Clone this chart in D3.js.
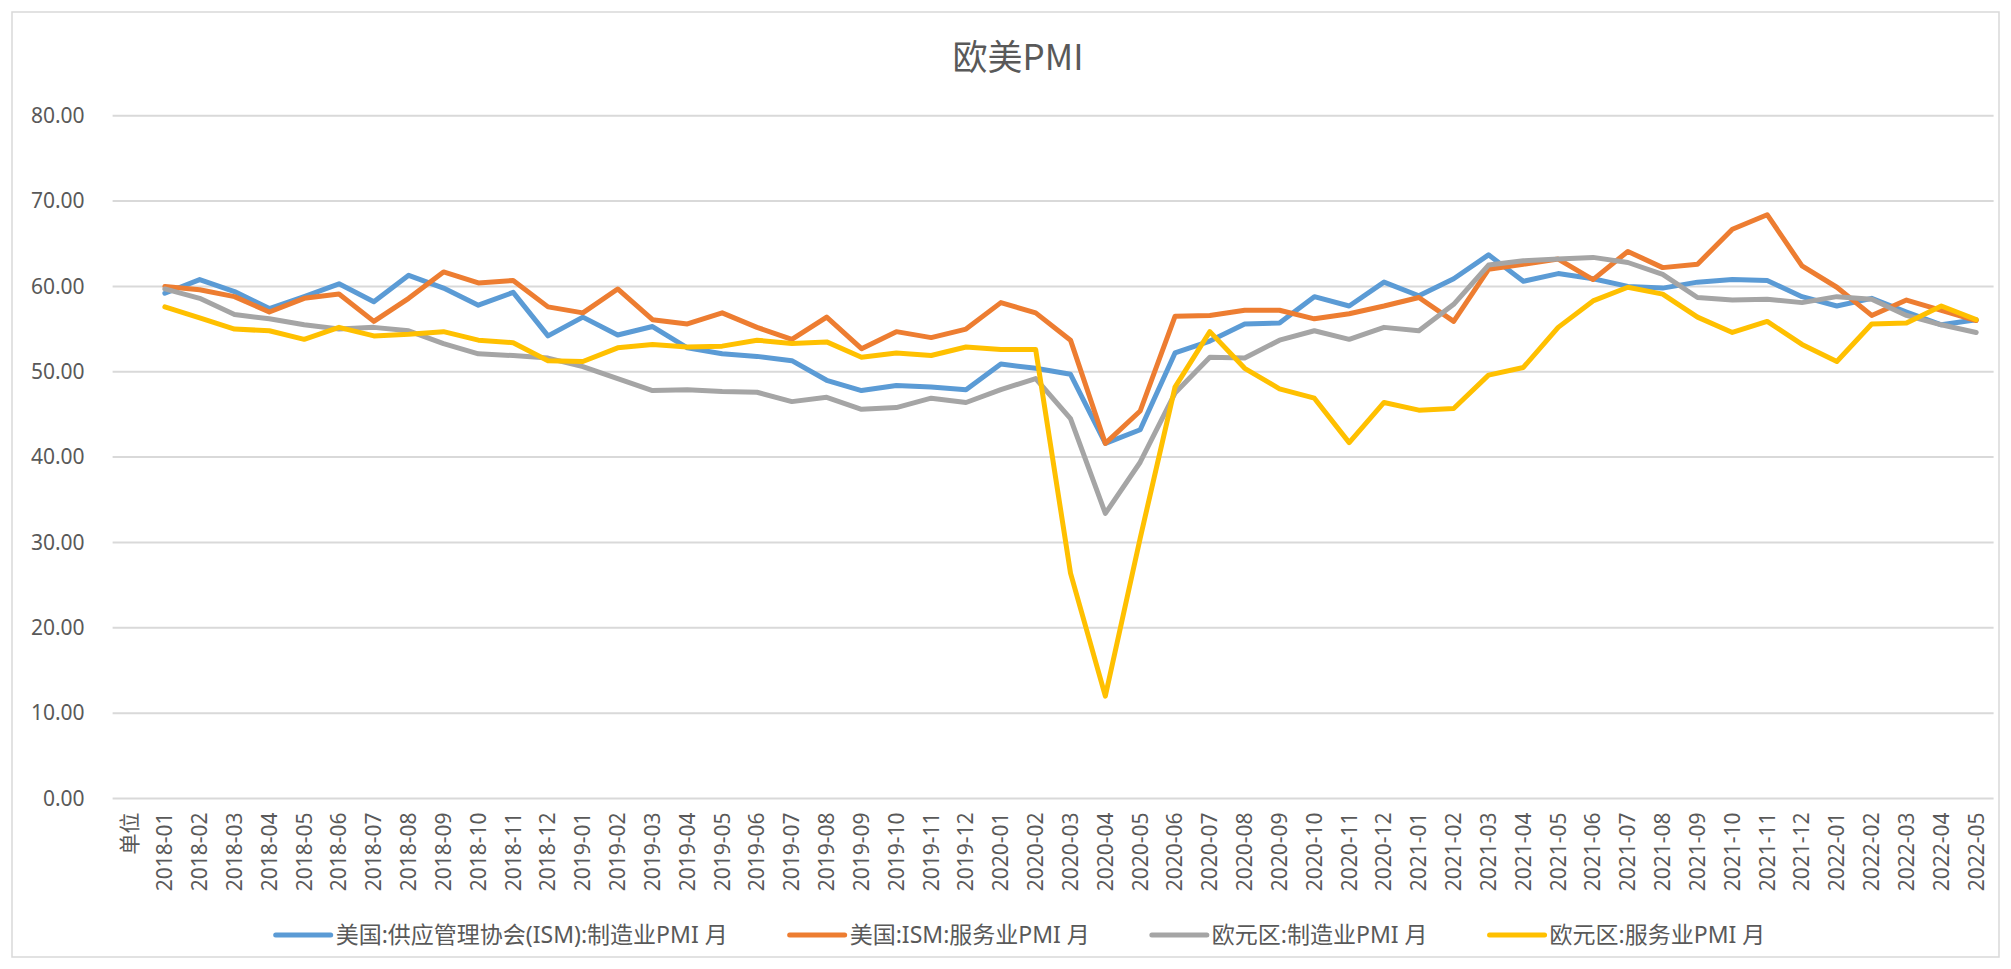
<!DOCTYPE html>
<html>
<head>
<meta charset="utf-8">
<script src="https://cdn.jsdelivr.net/npm/d3@7"></script>
<style>
  body { margin: 0; background: #fff; }
  svg { display: block; }
</style>
</head>
<body>
<script>
// --- Data ---
const months = [
  "2018-01","2018-02","2018-03","2018-04","2018-05","2018-06","2018-07","2018-08","2018-09","2018-10","2018-11","2018-12",
  "2019-01","2019-02","2019-03","2019-04","2019-05","2019-06","2019-07","2019-08","2019-09","2019-10","2019-11","2019-12",
  "2020-01","2020-02","2020-03","2020-04","2020-05","2020-06","2020-07","2020-08","2020-09","2020-10","2020-11","2020-12",
  "2021-01","2021-02","2021-03","2021-04","2021-05","2021-06","2021-07","2021-08","2021-09","2021-10","2021-11","2021-12",
  "2022-01","2022-02","2022-03","2022-04","2022-05"
];
const categories = ["单位"].concat(months);

const usManufacturing = [
  59.2, 60.8, 59.4, 57.4, 58.8, 60.3, 58.2, 61.3, 59.8, 57.8, 59.3, 54.2,
  56.4, 54.3, 55.3, 52.8, 52.1, 51.8, 51.3, 49.0, 47.8, 48.4, 48.2, 47.9,
  50.9, 50.4, 49.7, 41.6, 43.2, 52.2, 53.6, 55.6, 55.7, 58.8, 57.7, 60.5,
  58.9, 60.9, 63.7, 60.6, 61.5, 60.9, 60.0, 59.8, 60.5, 60.8, 60.7, 58.8,
  57.7, 58.6, 57.0, 55.5, 56.1
];
const usServices = [
  60.0, 59.6, 58.8, 57.0, 58.6, 59.1, 55.9, 58.6, 61.7, 60.4, 60.7, 57.6,
  56.9, 59.7, 56.1, 55.6, 56.9, 55.2, 53.8, 56.4, 52.7, 54.7, 54.0, 55.0,
  58.1, 56.9, 53.7, 41.6, 45.4, 56.5, 56.6, 57.2, 57.2, 56.2, 56.8, 57.7,
  58.7, 55.9, 62.0, 62.6, 63.2, 60.8, 64.1, 62.2, 62.6, 66.7, 68.4, 62.4,
  59.9, 56.6, 58.4, 57.2, 56.0
];
const ezManufacturing = [
  59.7, 58.6, 56.7, 56.2, 55.5, 55.0, 55.2, 54.8, 53.3, 52.1, 51.9, 51.6,
  50.6, 49.2, 47.8, 47.9, 47.7, 47.6, 46.5, 47.0, 45.6, 45.8, 46.9, 46.4,
  47.9, 49.2, 44.5, 33.4, 39.4, 47.5, 51.7, 51.6, 53.7, 54.8, 53.8, 55.2,
  54.8, 57.9, 62.5, 63.0, 63.2, 63.4, 62.8, 61.4, 58.7, 58.4, 58.5, 58.1,
  58.8, 58.5, 56.6, 55.5, 54.6
];
const ezServices = [
  57.6, 56.3, 55.0, 54.8, 53.8, 55.2, 54.2, 54.4, 54.7, 53.7, 53.4, 51.3,
  51.2, 52.8, 53.2, 52.9, 53.0, 53.7, 53.3, 53.5, 51.7, 52.2, 51.9, 52.9,
  52.6, 52.6, 26.4, 12.0, 30.5, 48.2, 54.7, 50.4, 48.0, 46.9, 41.7, 46.4,
  45.5, 45.7, 49.6, 50.5, 55.2, 58.3, 59.9, 59.1, 56.4, 54.6, 55.9, 53.2,
  51.2, 55.6, 55.7, 57.7, 56.1
];

const seriesNames = ["美国:供应管理协会(ISM):制造业PMI 月", "美国:ISM:服务业PMI 月", "欧元区:制造业PMI 月", "欧元区:服务业PMI 月"];
const seriesColors = ["#5B9BD5", "#ED7D31", "#A5A5A5", "#FFC000"];
const seriesValues = [usManufacturing, usServices, ezManufacturing, ezServices];
const yTicks = [0, 10, 20, 30, 40, 50, 60, 70, 80];

// --- Layout ---
const W = 2011, H = 969;
const plot = { left: 112.6, right: 1993.6, top: 115.7, bottom: 798.5 };
const TEXT = "#595959";
const FONT = "'Noto Sans', 'Noto Sans CJK SC', sans-serif";

const svg = d3.select("body").append("svg")
  .attr("width", W).attr("height", H);

svg.append("rect").attr("width", W).attr("height", H).attr("fill", "#fff");

// Chart border
svg.append("rect")
  .attr("x", 12).attr("y", 12)
  .attr("width", 1987).attr("height", 945)
  .attr("fill", "none").attr("stroke", "#d9d9d9").attr("stroke-width", 1.5);

// Title
svg.append("text")
  .attr("x", 1018).attr("y", 70)
  .attr("text-anchor", "middle")
  .attr("font-family", "'Noto Sans CJK SC', sans-serif")
  .attr("font-size", 35)
  .attr("fill", TEXT)
  .text("欧美PMI");

// --- Scales ---
const x = d3.scaleBand().domain(categories).range([plot.left, plot.right]).padding(0);
const y = d3.scaleLinear().domain([0, 80]).range([plot.bottom, plot.top]);
const cx = c => x(c) + x.bandwidth() / 2;

// Gridlines
svg.append("g")
  .selectAll("line")
  .data(yTicks)
  .join("line")
  .attr("x1", plot.left).attr("x2", plot.right)
  .attr("y1", d => y(d)).attr("y2", d => y(d))
  .attr("stroke", "#d9d9d9").attr("stroke-width", 2);

// Y axis labels
const yAxis = svg.append("g")
  .attr("transform", `translate(${plot.left - 28},0)`)
  .call(d3.axisLeft(y).tickValues(yTicks).tickFormat(d3.format(".2f")).tickSize(0).tickPadding(0));
yAxis.select(".domain").remove();
yAxis.selectAll("text")
  .attr("font-family", FONT).attr("font-size", 21).attr("fill", TEXT);

// X axis labels (rotated)
const xAxis = svg.append("g")
  .attr("transform", `translate(0,${plot.bottom})`)
  .call(d3.axisBottom(x).tickSize(0).tickPadding(0));
xAxis.select(".domain").remove();
xAxis.selectAll("text")
  .attr("font-family", FONT).attr("font-size", 21).attr("fill", TEXT)
  .attr("text-anchor", "end")
  .attr("transform", "rotate(-90)")
  .attr("x", -14).attr("y", 0).attr("dy", "0.35em");

// --- Lines ---
const line = d3.line()
  .x((d, i) => cx(months[i]))
  .y(d => y(d));

svg.append("g")
  .selectAll("path")
  .data(seriesValues)
  .join("path")
  .attr("d", d => line(d))
  .attr("fill", "none")
  .attr("stroke", (d, i) => seriesColors[i])
  .attr("stroke-width", 5)
  .attr("stroke-linejoin", "round")
  .attr("stroke-linecap", "round");

// --- Legend ---
const legend = svg.append("g");
const SW = 55, GAP_T = 5, GAP_I = 62, LY = 935;
const items = legend.selectAll("g")
  .data(seriesNames)
  .join("g");
items.append("line")
  .attr("x1", 0).attr("x2", SW)
  .attr("y1", 0).attr("y2", 0)
  .attr("stroke", (d, i) => seriesColors[i])
  .attr("stroke-width", 5)
  .attr("stroke-linecap", "round");
items.append("text")
  .attr("x", SW + GAP_T).attr("y", 0).attr("dy", "0.35em")
  .attr("font-family", FONT).attr("font-size", 23).attr("fill", TEXT)
  .text(d => d);

let offsets = [], acc = 0;
items.each(function() {
  offsets.push(acc);
  const tw = d3.select(this).select("text").node().getComputedTextLength();
  acc += SW + GAP_T + tw + GAP_I;
});
const total = acc - GAP_I;
const startX = 1020.5 - total / 2;
items.attr("transform", (d, i) => `translate(${startX + offsets[i]},${LY})`);
</script>
</body>
</html>
